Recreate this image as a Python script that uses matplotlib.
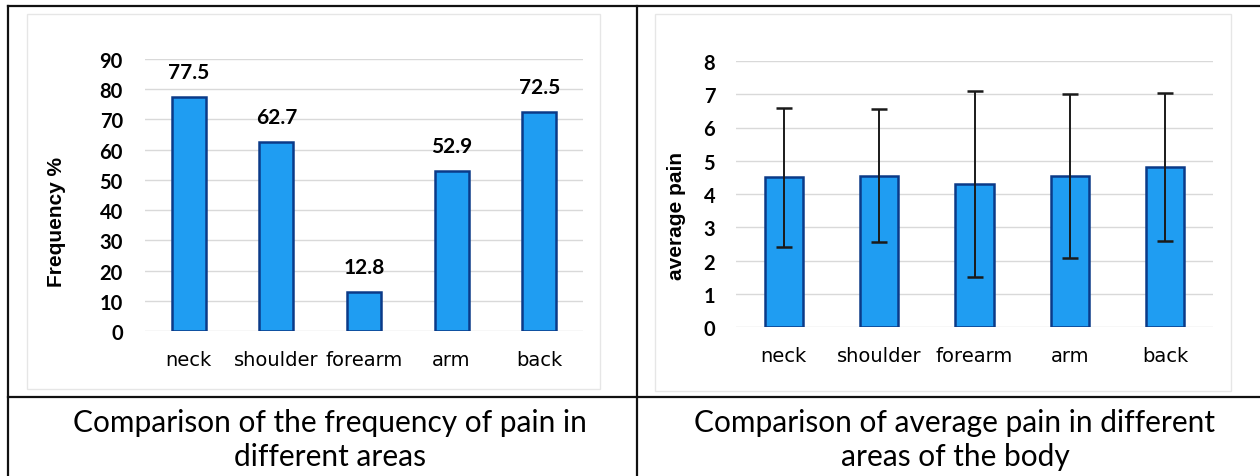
import matplotlib
matplotlib.use("Agg")
import matplotlib.pyplot as plt
from matplotlib.patches import Rectangle
from matplotlib.lines import Line2D

# ---------------- data ----------------
areas = ["neck", "shoulder", "forearm", "arm", "back"]
frequency = [77.5, 62.7, 12.8, 52.9, 72.5]
avg_pain = [4.50, 4.55, 4.30, 4.55, 4.82]
pain_sd = [2.10, 2.00, 2.80, 2.47, 2.22]
freq_ticks = [0, 10, 20, 30, 40, 50, 60, 70, 80, 90]
pain_ticks = [0, 1, 2, 3, 4, 5, 6, 7, 8]
title_left = "Comparison of the frequency of pain in\ndifferent areas"
title_right = "Comparison of average pain in different\nareas of the body"

W, H = 1260, 477
fig = plt.figure(figsize=(W / 100, H / 100), dpi=100)
fig.patch.set_facecolor("white")


def fx(px):
    return px / W


def fy(py):
    return 1 - py / H


def axes_px(x0, x1, ytop, ybot):
    return fig.add_axes([fx(x0), fy(ybot), fx(x1) - fx(x0), (ybot - ytop) / H])


BAR_FC = "#1F9DF2"
BAR_EC = "#0B3A88"
GRID = "#D9D9D9"
TICK_FONT = dict(family=["Lato", "DejaVu Sans"], weight="bold", size=14.5)
CAT_FONT = dict(family=["DejaVu Sans"], size=14)

# inner chart frames
for (x0, x1, y0, y1) in [(27, 600, 15, 390), (655, 1231, 15, 392)]:
    fig.patches.append(Rectangle((fx(x0), fy(y1)), fx(x1) - fx(x0), (y1 - y0) / H,
                                 transform=fig.transFigure, fill=False,
                                 edgecolor="#E6E6E6", lw=1.0, zorder=0))


def style(ax, ticks, ylim, pad_y):
    ax.set_facecolor("none")
    for s in ax.spines.values():
        s.set_visible(False)
    ax.set_xlim(-0.5, len(areas) - 0.5)
    ax.set_ylim(*ylim)
    ax.set_yticks(ticks)
    ax.set_yticklabels([str(t) for t in ticks], fontdict=TICK_FONT)
    ax.set_xticks(range(len(areas)))
    ax.set_xticklabels(areas, fontdict=CAT_FONT)
    ax.tick_params(axis="both", length=0, colors="black")
    ax.tick_params(axis="y", pad=pad_y)
    ax.tick_params(axis="x", pad=14)
    ax.yaxis.grid(True, color=GRID, lw=1.0)
    ax.set_axisbelow(True)


# ---------------- left chart ----------------
ax1 = axes_px(145, 583, 60, 332)
style(ax1, freq_ticks, (0, 90), 16)
ax1.bar(range(len(areas)), frequency, width=0.39, color=BAR_FC,
        edgecolor=BAR_EC, linewidth=1.8, zorder=3)
for i, v in enumerate(frequency):
    ax1.annotate(f"{v}", (i, v), xytext=(0, 18), textcoords="offset points",
                 ha="center", va="center", fontsize=15,
                 family=["Lato", "DejaVu Sans"], weight="bold", zorder=4)
fig.text(fx(56), fy(222), "Frequency %", rotation=90, ha="center", va="center",
         family=["Liberation Sans", "DejaVu Sans"], weight="bold", fontsize=15)

# ---------------- right chart ----------------
ax2 = axes_px(736, 1213, 62, 328)
style(ax2, pain_ticks, (0, 8), 15)
ax2.bar(range(len(areas)), avg_pain, width=0.40, color=BAR_FC,
        edgecolor=BAR_EC, linewidth=1.8, zorder=3)
ax2.errorbar(range(len(areas)), avg_pain, yerr=pain_sd, fmt="none",
             ecolor="#1A1A1A", elinewidth=1.4, capsize=5.5, capthick=1.8, zorder=4)
fig.text(fx(677), fy(216), "average pain", rotation=90, ha="center", va="center",
         family=["Liberation Sans", "DejaVu Sans"], weight="bold", fontsize=15)

# ---------------- table lines ----------------
lw = 1.6
for xs, ys in [((8, 1260), (7, 7)), ((8, 1260), (398, 398)),
               ((8, 8), (7, 477)), ((637, 637), (7, 477))]:
    fig.add_artist(Line2D([fx(xs[0]), fx(xs[1])], [fy(ys[0]), fy(ys[1])],
                          transform=fig.transFigure, color="#111111", lw=lw))

# ---------------- captions ----------------
fig.text(fx(330), fy(440), title_left, ha="center", va="center",
         family=["Lato", "DejaVu Sans"], fontsize=21.5, linespacing=1.25)
fig.text(fx(955), fy(440), title_right, ha="center", va="center",
         family=["Lato", "DejaVu Sans"], fontsize=21.5, linespacing=1.25)

fig.savefig("out.png", dpi=100, facecolor="white")
